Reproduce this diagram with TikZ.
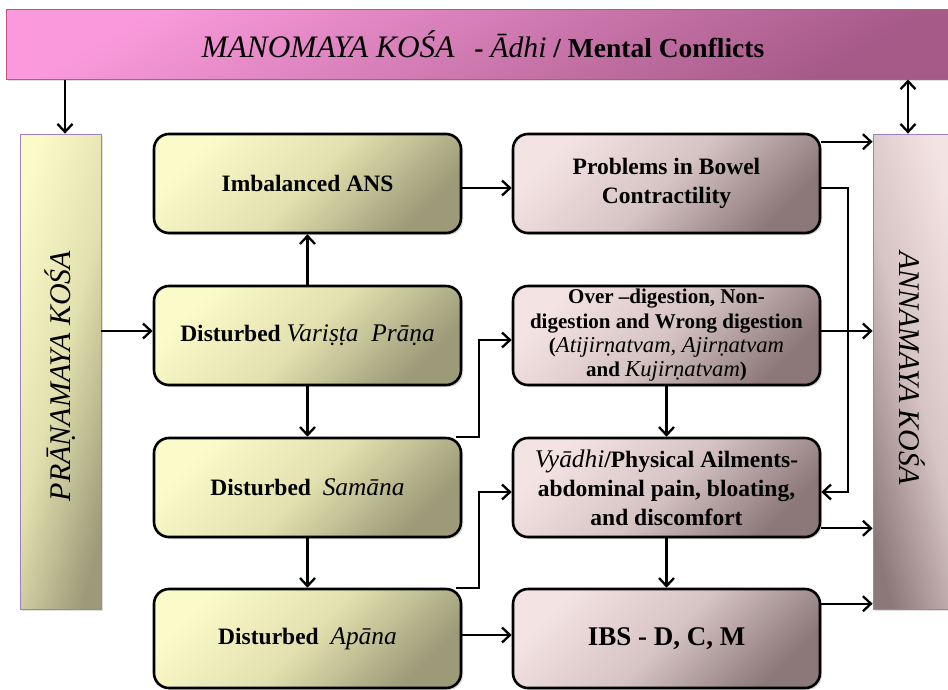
\documentclass[tikz,border=0pt]{standalone}
\usepackage{fontspec}
\setmainfont{Liberation Serif}
\newfontfamily\sktfont[Scale=1.08]{Liberation Serif}
\usetikzlibrary{arrows.meta,shadows,calc}

\definecolor{yLight}{HTML}{FBFAC9}
\definecolor{yMid}{HTML}{E2E0AE}
\definecolor{yDark}{HTML}{9C9A78}
\definecolor{rLight}{HTML}{F4E3E3}
\definecolor{rMid}{HTML}{D6C3C3}
\definecolor{rDark}{HTML}{8C7878}
\definecolor{pLight}{HTML}{FA9ADC}
\definecolor{pDark}{HTML}{A65A88}
\definecolor{pEdge}{HTML}{C8507A}
\definecolor{kEdge}{HTML}{9A80C4}

% Sanskrit terms: italic, slightly wider face
\newcommand\skt[1]{{\sktfont\mdseries\itshape #1}}

\tikzset{
  box/.style={draw=black, line width=2.6pt, rounded corners=15pt,
    minimum width=307pt, minimum height=99pt, inner sep=2pt, align=center,
    font=\bfseries\fontsize{23.5}{29}\selectfont,
    drop shadow={opacity=0.3, shadow xshift=2pt, shadow yshift=-2pt}},
  ybox/.style={box, top color=yLight, bottom color=yDark, middle color=yMid, shading angle=45},
  rbox/.style={box, top color=rLight, bottom color=rDark, middle color=rMid, shading angle=45},
  kosa/.style={draw=kEdge, line width=0.8pt, minimum height=475pt,
    drop shadow={opacity=0.25, shadow xshift=2pt, shadow yshift=-2pt}},
  tip/.tip={Straight Barb[length=8pt,width=15pt]},
  conn/.style={line width=2.3pt, -tip},
  dconn/.style={line width=2.3pt, tip-tip},
}

\begin{document}
\begin{tikzpicture}[x=1pt, y=-1pt]
\useasboundingbox (0,0) rectangle (948,689);
\clip (0,0) rectangle (948,689);

% top banner
\node[draw=pEdge, line width=1pt, minimum width=954pt, minimum height=70pt,
      top color=pLight, bottom color=pDark, shading angle=30,
      drop shadow={opacity=0.25, shadow xshift=2pt, shadow yshift=-2pt}]
  (mano) at (483,44)
  {\fontsize{29}{32}\selectfont\skt{MANOMAYA KOŚA}\hspace{20pt}%
   \fontsize{27.5}{32}\selectfont\bfseries - \skt{Ādhi} / Mental Conflicts};

% side sheaths
\node[kosa, minimum width=81pt, left color=yLight, right color=yDark, middle color=yMid, shading angle=75]
  (prana) at (60.5,371.5) {};
\node[rotate=90, font=\fontsize{30}{32}\selectfont\itshape] (pranatext) at (60,376) {PRĀṆAMAYA KOŚA};

\node[kosa, minimum width=78pt, left color=rDark, right color=rLight, middle color=rMid, shading angle=105]
  (anna) at (912,371.5) {};
\node[rotate=-90, font=\fontsize{30}{32}\selectfont\itshape] (annatext) at (912,368) {ANNAMAYA KOŚA};

% left column
\node[ybox] (b1) at (307.5,183.5) {Imbalanced ANS};
\node[ybox] (b2) at (307.5,335.5) {Disturbed \skt{Variṣṭa\ \ Prāṇa}};
\node[ybox] (b3) at (307.5,487.5) {Disturbed\ \ \skt{Samāna}};
\node[ybox] (b4) at (307.5,638.5) {Disturbed\ \ \skt{Apāna}};

% right column
\node[rbox] (c1) at (666.5,183.5) {Problems in Bowel\\Contractility};
\node[rbox, font=\bfseries\fontsize{21}{24.4}\selectfont] (c2) at (666.5,335.5)
  {Over –digestion, Non-\\digestion and Wrong digestion\\(\skt{Atijirṇatvam, Ajirṇatvam}\\and \skt{Kujirṇatvam})};
\node[rbox] (c3) at (666.5,487.5) {\skt{Vyādhi}/Physical Ailments-\\abdominal pain, bloating,\\and discomfort};
\node[rbox, font=\bfseries\fontsize{27}{30}\selectfont] (c4) at (666.5,638.5) {IBS - D, C, M};

% banner to sheaths
\coordinate (pt) at ([xshift=4.5pt]prana.north);
\draw[conn] (pt |- mano.south) -- (pt);
\coordinate (at) at ([xshift=-4pt]anna.north);
\draw[dconn] (at |- mano.south) -- (at);

% left column links
\coordinate (b2w) at ([yshift=4.5pt]b2.west);
\draw[conn] (prana.east |- b2w) -- (b2w);
\draw[conn] (b2.north) -- (b1.south);
\draw[conn] (b2.south) -- (b3.north);
\draw[conn] (b3.south) -- (b4.north);

% across the columns
\draw[conn] ([yshift=-4.5pt]b1.east) -- ([yshift=-4.5pt]c1.west);
\coordinate (c2w) at ([yshift=-4.5pt]c2.west);
\draw[conn] ([xshift=-6pt]b3.north east) -- ++(23,0) |- (c2w);
\coordinate (c3w) at ([yshift=-4.5pt]c3.west);
\draw[conn] ([xshift=-6pt]b4.north east) -- ++(23,0) |- (c3w);
\draw[conn] ([yshift=3.5pt]b4.east) -- ([yshift=3.5pt]c4.west);

% right column links
\draw[conn] (c2.south) -- (c3.north);
\draw[conn] (c3.south) -- (c4.north);
\coordinate (c1b) at ([yshift=-4.5pt]c1.east);
\coordinate (c3e) at ([yshift=-4.5pt]c3.east);
\draw[conn] (c1b) -- ++(27,0) |- (c3e);

% into the physical sheath
\coordinate (c1a) at ([yshift=-9pt]c1.north east);
\draw[conn] (c1a) -- (c1a -| anna.west);
\coordinate (c2a) at ([yshift=4.5pt]c2.east);
\draw[conn] (c2a) -- (c2a -| anna.west);
\coordinate (c3a) at ([yshift=10pt]c3.south east);
\draw[conn] (c3a) -- (c3a -| anna.west);
\coordinate (c4a) at ([yshift=-16pt]c4.north east);
\draw[conn] (c4a) -- (c4a -| anna.west);
\end{tikzpicture}
\end{document}
